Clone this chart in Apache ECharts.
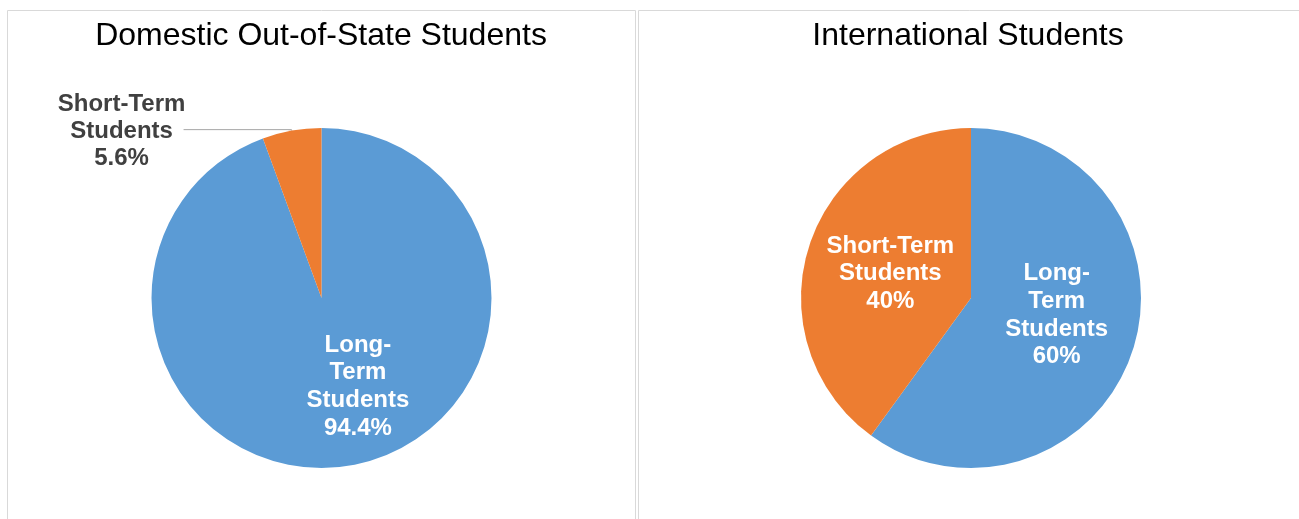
<!DOCTYPE html>
<html><head><meta charset="utf-8">
<script src="https://cdn.jsdelivr.net/npm/echarts@6/dist/echarts.min.js"></script>
<style>html,body{margin:0;padding:0;background:#fff}#c{width:1299px;height:519px}</style>
</head><body><div id="c"></div>
<script>
const categories = ['Long-Term Students', 'Short-Term Students'];
const labelNames = ['Long-\nTerm\nStudents', 'Short-Term\nStudents'];
const domesticValues = [94.4, 5.6];
const internationalValues = [60, 40];
const chartTitles = ['Domestic Out-of-State Students', 'International Students'];

const FONT = 'Liberation Sans, Arial, sans-serif';
const colors = ['#5B9BD5', '#ED7D31'];

function fmt(p) { return labelNames[p.dataIndex] + '\n' + p.value + '%'; }

const insideLabel = {
  show: true, position: 'inside', formatter: fmt,
  color: '#ffffff', fontFamily: FONT, fontWeight: 'bold', fontSize: 24, lineHeight: 27.7
};

const domesticData = categories.map((c, i) => {
  const d = { name: c, value: domesticValues[i], itemStyle: { color: colors[i] } };
  if (i === 1) {
    d.label = {
      show: true, position: 'outside', distanceToLabelLine: -8,
      formatter: p => '{o|' + labelNames[p.dataIndex] + '\n' + p.value + '%}',
      rich: { o: { width: 140, align: 'center', color: '#404040', fontFamily: FONT, fontWeight: 'bold', fontSize: 24, lineHeight: 27 } }
    };
    d.labelLine = { show: true, length: 1, length2: 108, smooth: false, lineStyle: { color: '#A6A6A6', width: 1 } };
  }
  return d;
});
const internationalData = categories.map((c, i) => ({ name: c, value: internationalValues[i], itemStyle: { color: colors[i] } }));

const domShift = [[21, 2], [0, 2]];
const intShift = [[2, -10], [3, 3]];

const chart = echarts.init(document.getElementById('c'), null, { renderer: 'canvas' });
chart.setOption({
  animation: false,
  title: [
    { text: chartTitles[0], left: 321, top: 20, textAlign: 'center', padding: 0,
      textStyle: { fontFamily: FONT, fontWeight: 'normal', fontSize: 32, color: '#000' } },
    { text: chartTitles[1], left: 968, top: 20, textAlign: 'center', padding: 0,
      textStyle: { fontFamily: FONT, fontWeight: 'normal', fontSize: 32, color: '#000' } }
  ],
  graphic: [
    { type: 'rect', shape: { x: 7.5, y: 10.5, width: 628, height: 530 }, style: { fill: 'none', stroke: '#D9D9D9', lineWidth: 1 }, silent: true },
    { type: 'rect', shape: { x: 638.5, y: 10.5, width: 700, height: 530 }, style: { fill: 'none', stroke: '#D9D9D9', lineWidth: 1 }, silent: true }
  ],
  series: [
    {
      type: 'pie', center: [321.5, 298], radius: 170, startAngle: 90, clockwise: true,
      avoidLabelOverlap: false, emphasis: { disabled: true }, silent: true,
      itemStyle: { borderWidth: 0 },
      label: insideLabel, labelLine: { show: false },
      labelLayout: p => ({ dx: domShift[p.dataIndex][0], dy: domShift[p.dataIndex][1] }),
      data: domesticData
    },
    {
      type: 'pie', center: [971, 298], radius: 170, startAngle: 90, clockwise: true,
      avoidLabelOverlap: false, emphasis: { disabled: true }, silent: true,
      itemStyle: { borderWidth: 0 },
      label: insideLabel, labelLine: { show: false },
      labelLayout: p => ({ dx: intShift[p.dataIndex][0], dy: intShift[p.dataIndex][1] }),
      data: internationalData
    }
  ]
});
</script></body></html>
